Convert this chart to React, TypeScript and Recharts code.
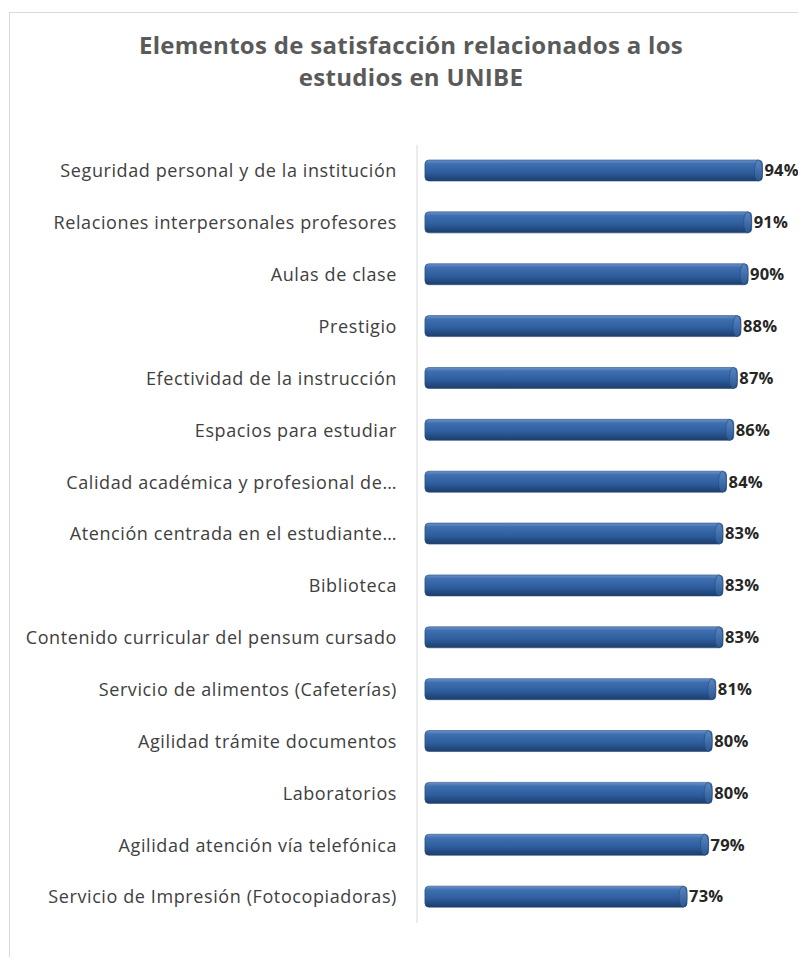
import React from 'react';
import { BarChart, Bar, XAxis, YAxis, LabelList } from 'recharts';

const categories = [
  'Seguridad personal y de la institución',
  'Relaciones interpersonales profesores',
  'Aulas de clase',
  'Prestigio',
  'Efectividad de la instrucción',
  'Espacios para estudiar',
  'Calidad académica y profesional de…',
  'Atención centrada en el estudiante…',
  'Biblioteca',
  'Contenido curricular del pensum cursado',
  'Servicio de alimentos (Cafeterías)',
  'Agilidad trámite documentos',
  'Laboratorios',
  'Agilidad atención vía telefónica',
  'Servicio de Impresión (Fotocopiadoras)',
];
const values = [94, 91, 90, 88, 87, 86, 84, 83, 83, 83, 81, 80, 80, 79, 73];
const title = ['Elementos de satisfacción relacionados a los', 'estudios en UNIBE'];

const data = categories.map((name, i) => ({ name, value: values[i] }));

const FONT = '"Open Sans", sans-serif';

function Cylinder(props: any) {
  const { x, y, width, height } = props;
  if (!width || width <= 0) return null;
  const r = 4;
  return (
    <g>
      <rect x={x} y={y} width={width} height={height} rx={r} ry={r} fill="url(#cylGrad)" stroke="#24497c" strokeWidth={0.6} />
      <ellipse cx={x + width - r} cy={y + height / 2} rx={r} ry={height / 2} fill="url(#capGrad)" stroke="#24497c" strokeWidth={0.6} />
    </g>
  );
}

export default function App() {
  return (
    <div style={{ position: 'relative', width: 790, height: 949, fontFamily: FONT }}>
      <div
        style={{
          position: 'absolute',
          left: 1,
          top: 4,
          width: 797,
          height: 944,
          borderTop: '1px solid #d9d9d9',
          borderLeft: '1px solid #d9d9d9',
        }}
      />
      <div
        style={{
          position: 'absolute',
          left: 0,
          top: 21,
          width: 796,
          paddingLeft: 10,
          textAlign: 'center',
          color: '#5a5a5a',
          fontWeight: 'bold',
          fontSize: 24,
          letterSpacing: 0.3,
          lineHeight: '32px',
          boxSizing: 'border-box',
        }}
      >
        {title.map((t) => (
          <div key={t}>{t}</div>
        ))}
      </div>
      <BarChart
        width={794}
        height={949}
        data={data}
        layout="vertical"
        barSize={21}
        margin={{ top: 137, right: 18, bottom: 34, left: 0 }}
        style={{ position: 'absolute', left: 0, top: 0, overflow: 'visible' }}
      >
        <defs>
          <linearGradient id="cylGrad" x1="0" y1="0" x2="0" y2="1">
            <stop offset="0%" stopColor="#6b93c9" />
            <stop offset="18%" stopColor="#3f6fb0" />
            <stop offset="60%" stopColor="#2d5d9c" />
            <stop offset="100%" stopColor="#1c3d6b" />
          </linearGradient>
          <linearGradient id="capGrad" x1="0" y1="0" x2="0" y2="1">
            <stop offset="0%" stopColor="#5a86c2" />
            <stop offset="100%" stopColor="#2a5893" />
          </linearGradient>
        </defs>
        <XAxis type="number" domain={[-2.2, 100]} hide />
        <YAxis
          type="category"
          dataKey="name"
          width={409}
          tickLine={false}
          tickSize={0}
          tickMargin={20}
          axisLine={{ stroke: '#d9d9d9' }}
          tick={{ fill: '#404040', fontSize: 18, fontFamily: FONT, letterSpacing: 0.6 }}
          interval={0}
        />
        <Bar dataKey="value" shape={<Cylinder />} isAnimationActive={false}>
          <LabelList
            dataKey="value"
            position="right"
            offset={2}
            formatter={(v: any) => `${v}%`}
            style={{ fill: '#262626', fontWeight: 'bold', fontSize: 16.5, fontFamily: FONT, letterSpacing: 0.2 }}
          />
        </Bar>
      </BarChart>
    </div>
  );
}
